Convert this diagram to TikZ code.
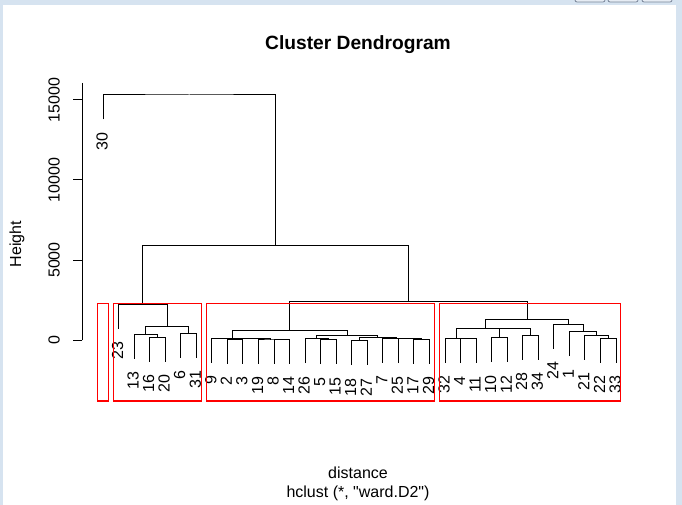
\documentclass[tikz,border=0pt]{standalone}
\usepackage{fontspec}
\setmainfont{Liberation Sans}
\definecolor{framebg}{HTML}{D6E3F0}
\definecolor{btnline}{HTML}{7A8699}
\definecolor{btnfill}{HTML}{E6ECF4}
\newcommand\straightquote{\XeTeXglyph\XeTeXcharglyph"22\relax}
\newcommand\leafat[4]{%
  \coordinate (#1) at (#2,{#3+24.5});
  \node[leaflab] (t#1) at ({#2-1},{#3+24.5+13}) {#4};
}
\newcommand\mergeat[5]{%
  \coordinate (#1) at (#4,#5);
  \draw[tree] (#2) |- (#1) -| (#3);
}
\begin{document}
\begin{tikzpicture}[x=1pt,y=-1pt,
  tree/.style={draw=black, line width=1pt},
  redbox/.style={draw=red, line width=1.2pt},
  axisline/.style={draw=black, line width=1pt},
  leaflab/.style={rotate=90, anchor=east, inner sep=0pt, font=\fontsize{16}{18}\selectfont},
  ticklab/.style={rotate=90, inner sep=0pt, font=\fontsize{16}{18}\selectfont},
  plaintext/.style={inner sep=0pt, font=\fontsize{16}{18}\selectfont},
  titletext/.style={inner sep=0pt, font=\fontsize{19.2}{22}\selectfont\bfseries},
  winbtn/.style={draw=btnline, fill=btnfill, line width=0.8pt, rounded corners=2pt}
]
\useasboundingbox (0,0) rectangle (682,505);
\fill[framebg] (0,0) rectangle (682,505);
\fill[white] (3,5) rectangle (676,505);
\draw[winbtn] (575,-6) rectangle (605,2);
\draw[winbtn] (608,-6) rectangle (638,2);
\draw[winbtn] (642,-6) rectangle (672,2);

% title and axis labels
\node[titletext] (title) at (358,45) {Cluster Dendrogram};
\node[plaintext] (xlab) at (358,473) {distance};
\node[plaintext] (sub) at (358,493) {hclust (*, \straightquote ward.D2\straightquote)};
\node[ticklab] (ylab) at (17,244) {Height};

% y axis
\coordinate (axtop) at (82.3,83);
\coordinate (ax0) at (82.3,340);
\draw[axisline] (axtop) -- (ax0);
\foreach \v/\yy in {0/340,5000/260,10000/180,15000/100}{
  \coordinate (tick\v) at (82.3,\yy);
  \coordinate (tickend\v) at (73,\yy);
  \draw[axisline] (tick\v) -- (tickend\v);
  \node[ticklab] (ticklab\v) at (54,\yy) {\v};
}

% leaves
\leafat{L30}{103.0}{95}{30}
\leafat{L23}{118.5}{304.3}{23}
\leafat{L13}{134.1}{334.3}{13}
\leafat{L16}{149.6}{337.3}{16}
\leafat{L20}{165.2}{337.3}{20}
\leafat{L6}{180.7}{333.3}{6}
\leafat{L31}{196.3}{333.3}{31}
\leafat{L9}{211.8}{338.3}{9}
\leafat{L2}{227.4}{339.3}{2}
\leafat{L3}{242.9}{339.3}{3}
\leafat{L19}{258.5}{339.0}{19}
\leafat{L8}{274.0}{339.3}{8}
\leafat{L14}{289.5}{339.3}{14}
\leafat{L26}{305.1}{338.7}{26}
\leafat{L5}{320.6}{339.7}{5}
\leafat{L15}{336.2}{339.7}{15}
\leafat{L18}{351.7}{340.7}{18}
\leafat{L27}{367.3}{340.7}{27}
\leafat{L7}{382.8}{338.3}{7}
\leafat{L25}{398.4}{338.7}{25}
\leafat{L17}{413.9}{339.3}{17}
\leafat{L29}{429.5}{339.3}{29}
\leafat{L32}{445.0}{338.2}{32}
\leafat{L4}{460.5}{338.5}{4}
\leafat{L11}{476.1}{338.5}{11}
\leafat{L10}{491.6}{337.7}{10}
\leafat{L12}{507.2}{337.7}{12}
\leafat{L28}{522.7}{335.3}{28}
\leafat{L34}{538.3}{335.3}{34}
\leafat{L24}{553.8}{324.3}{24}
\leafat{L1}{569.4}{331.7}{1}
\leafat{L21}{584.9}{335.3}{21}
\leafat{L22}{600.5}{338.3}{22}
\leafat{L33}{616.0}{338.3}{33}

% merges
\mergeat{a2}{L16}{L20}{157.4}{337.3}
\mergeat{a1}{L13}{a2}{145.75}{334.3}
\mergeat{a3}{L6}{L31}{188.5}{333.3}
\mergeat{a4}{a1}{a3}{167.1}{326.3}
\mergeat{g2}{L23}{a4}{142.8}{304.3}
\mergeat{b2}{L2}{L3}{235.15}{339.3}
\mergeat{b3}{L8}{L14}{281.75}{339.3}
\mergeat{b4}{L19}{b3}{270.1}{339.0}
\mergeat{b5}{b2}{b4}{252.6}{338.7}
\mergeat{b6}{L9}{b5}{232.2}{338.3}
\mergeat{c0}{L5}{L15}{328.4}{339.7}
\mergeat{c1}{L26}{c0}{316.75}{338.7}
\mergeat{c2}{L18}{L27}{359.5}{340.7}
\mergeat{c3}{L17}{L29}{421.7}{339.3}
\mergeat{c4}{L25}{c3}{410.05}{338.7}
\mergeat{c5}{L7}{c4}{396.4}{338.3}
\mergeat{c6}{c2}{c5}{377.95}{337.3}
\mergeat{c7}{c1}{c6}{347.35}{335.5}
\mergeat{m1}{b6}{c7}{289.8}{330.3}
\mergeat{d1}{L4}{L11}{468.3}{338.5}
\mergeat{d2}{L32}{d1}{456.65}{338.2}
\mergeat{d3}{L10}{L12}{499.4}{337.7}
\mergeat{d4}{L28}{L34}{530.5}{335.3}
\mergeat{d5}{d3}{d4}{514.95}{328.6}
\mergeat{d6}{d2}{d5}{485.8}{328.3}
\mergeat{e1}{L22}{L33}{608.25}{338.3}
\mergeat{e2}{L21}{e1}{596.6}{335.3}
\mergeat{e3}{L1}{e2}{583.0}{331.7}
\mergeat{e4}{L24}{e3}{568.4}{324.3}
\mergeat{g4}{d6}{e4}{527.1}{319.3}
\mergeat{g34}{m1}{g4}{408.45}{301.3}
\mergeat{g234}{g2}{g34}{275.6}{245.3}
\mergeat{top}{L30}{g234}{189.3}{95}

% cluster rectangles
\draw[redbox] (97.6,303.6) rectangle (108.1,401);
\draw[redbox] (113.3,303.6) rectangle (201.2,401);
\draw[redbox] (206.5,303.6) rectangle (434.4,401);
\draw[redbox] (439.5,303.6) rectangle (620.8,401);
\end{tikzpicture}
\end{document}
